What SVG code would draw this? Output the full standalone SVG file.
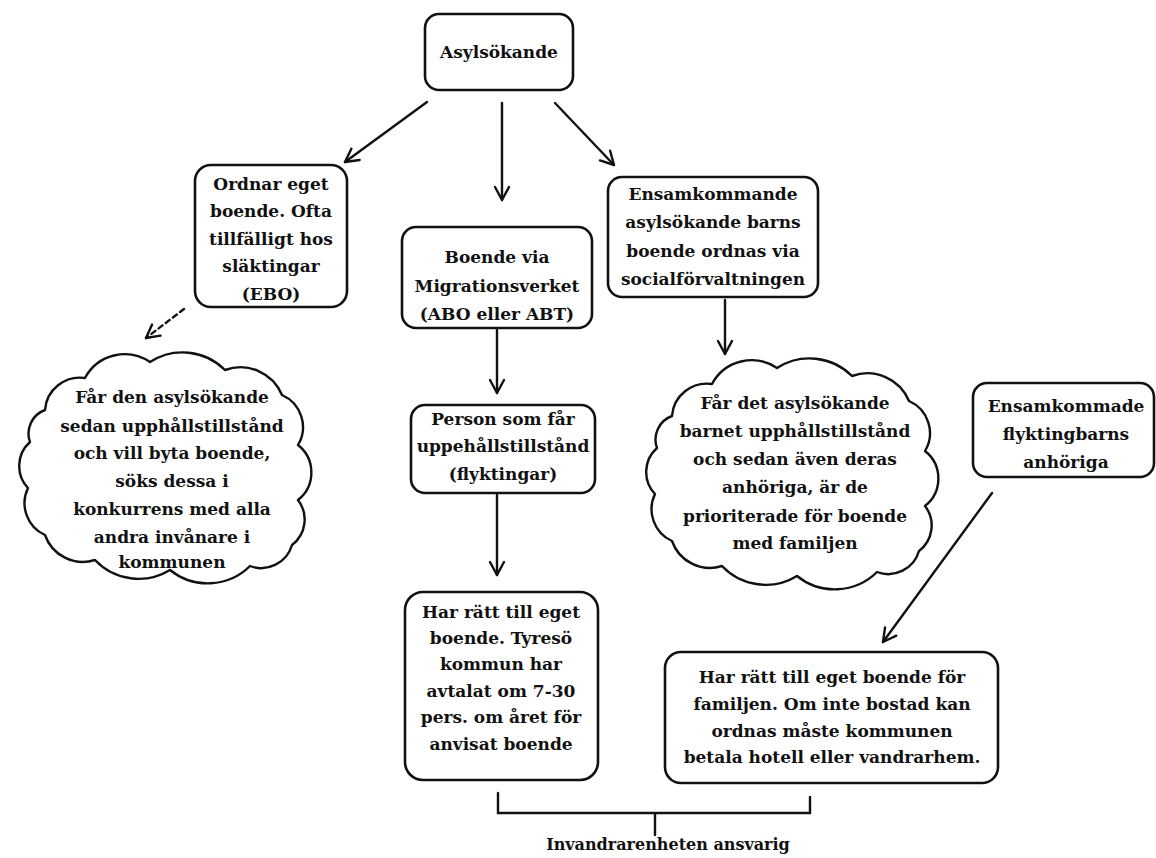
<svg xmlns="http://www.w3.org/2000/svg" width="1156" height="858" viewBox="0 0 1156 858">
<defs>
<marker id="arr" markerUnits="userSpaceOnUse" markerWidth="18" markerHeight="18" viewBox="0 0 18 18" refX="15" refY="9" orient="auto">
<path d="M2,2 L15,9 L2,16" fill="none" stroke="#111" stroke-width="2.4" stroke-linecap="round" stroke-linejoin="round"/>
</marker>
<path id="cloudshape" d="M45,410 A35,35 0 0 1 85,378 A45,45 0 0 1 150,362 A60,60 0 0 1 225,370 A45,45 0 0 1 282,395 A35,35 0 0 1 298,445 A35,35 0 0 1 298,500 A32,32 0 0 1 292,545 A32,32 0 0 1 250,566 A60,60 0 0 1 170,570 A60,60 0 0 1 95,560 A40,40 0 0 1 45,535 A35,35 0 0 1 28,488 A32,32 0 0 1 30,442 A25,25 0 0 1 45,410 Z"/>
<style>
.box{fill:#fff;stroke:#111;stroke-width:2.6}
.cloud{fill:#fff;stroke:#111;stroke-width:2.4;stroke-linejoin:round}
.t{font-family:"DejaVu Serif","Liberation Serif",serif;font-weight:bold;font-size:17px;fill:#111;text-anchor:middle}
.c{fill:none;stroke:#111;stroke-width:2.4;stroke-linecap:round}
</style>
</defs>
<rect width="1156" height="858" fill="#fff"/>
<g id="connectors">
<line class="c" x1="427" y1="102" x2="345" y2="162" marker-end="url(#arr)"/>
<line class="c" x1="502" y1="103" x2="502" y2="200" marker-end="url(#arr)"/>
<line class="c" x1="555" y1="103" x2="614" y2="165" marker-end="url(#arr)"/>
<line class="c" x1="184" y1="309" x2="146" y2="338" stroke-dasharray="5 4" marker-end="url(#arr)"/>
<line class="c" x1="725" y1="300" x2="725" y2="354" marker-end="url(#arr)"/>
<line class="c" x1="497" y1="330" x2="497" y2="393" marker-end="url(#arr)"/>
<line class="c" x1="497" y1="495" x2="497" y2="575" marker-end="url(#arr)"/>
<line class="c" x1="992" y1="493" x2="883" y2="642" marker-end="url(#arr)"/>
<path class="c" d="M498,793 V813 H810 V797 M655,813 V835" fill="none"/>
</g>
<g id="n-asylsokande">
<rect class="box" x="425" y="14" width="148" height="76" rx="14"/>
<text class="t" x="499" y="58">Asylsökande</text>
</g>
<g id="n-ordnar">
<rect class="box" x="195" y="165" width="152" height="142" rx="16"/>
<text class="t" x="271" y="190">Ordnar eget</text>
<text class="t" x="271" y="217">boende. Ofta</text>
<text class="t" x="271" y="245">tillfälligt hos</text>
<text class="t" x="271" y="272">släktingar</text>
<text class="t" x="271" y="300">(EBO)</text>
</g>
<g id="n-boende">
<rect class="box" x="402" y="227" width="190" height="101" rx="14"/>
<text class="t" x="497" y="263">Boende via</text>
<text class="t" x="497" y="292">Migrationsverket</text>
<text class="t" x="497" y="320">(ABO eller ABT)</text>
</g>
<g id="n-ensam">
<rect class="box" x="608" y="177" width="210" height="120" rx="14"/>
<text class="t" x="713" y="200">Ensamkommande</text>
<text class="t" x="713" y="228">asylsökande barns</text>
<text class="t" x="713" y="257">boende ordnas via</text>
<text class="t" x="713" y="285">socialförvaltningen</text>
</g>
<g id="n-cloud1">
<use href="#cloudshape" class="cloud"/>
<text class="t" x="172" y="403">Får den asylsökande</text>
<text class="t" x="172" y="432">sedan upphållstillstånd</text>
<text class="t" x="172" y="459">och vill byta boende,</text>
<text class="t" x="172" y="487">söks dessa i</text>
<text class="t" x="172" y="515">konkurrens med alla</text>
<text class="t" x="172" y="543">andra invånare i</text>
<text class="t" x="172" y="568">kommunen</text>
</g>
<g id="n-person">
<rect class="box" x="411" y="405" width="184" height="88" rx="14"/>
<text class="t" x="503" y="425">Person som får</text>
<text class="t" x="503" y="452">uppehållstillstånd</text>
<text class="t" x="503" y="480">(flyktingar)</text>
</g>
<g id="n-cloud2">
<use href="#cloudshape" class="cloud" transform="translate(627,6)"/>
<text class="t" x="795" y="409">Får det asylsökande</text>
<text class="t" x="795" y="437">barnet upphållstillstånd</text>
<text class="t" x="795" y="465">och sedan även deras</text>
<text class="t" x="795" y="493">anhöriga, är de</text>
<text class="t" x="795" y="522">prioriterade för boende</text>
<text class="t" x="795" y="549">med familjen</text>
</g>
<g id="n-anhoriga">
<rect class="box" x="973" y="383" width="181" height="94" rx="14"/>
<text class="t" x="1066" y="412">Ensamkommade</text>
<text class="t" x="1066" y="440">flyktingbarns</text>
<text class="t" x="1066" y="468">anhöriga</text>
</g>
<g id="n-rattmitt">
<rect class="box" x="405" y="592" width="193" height="188" rx="18"/>
<text class="t" x="501" y="618">Har rätt till eget</text>
<text class="t" x="501" y="644">boende. Tyresö</text>
<text class="t" x="501" y="670">kommun har</text>
<text class="t" x="501" y="697">avtalat om 7-30</text>
<text class="t" x="501" y="723">pers. om året för</text>
<text class="t" x="501" y="750">anvisat boende</text>
</g>
<g id="n-rattfamilj">
<rect class="box" x="665" y="652" width="333" height="131" rx="16"/>
<text class="t" x="832" y="683">Har rätt till eget boende för</text>
<text class="t" x="832" y="710">familjen. Om inte bostad kan</text>
<text class="t" x="832" y="737">ordnas måste kommunen</text>
<text class="t" x="832" y="763">betala hotell eller vandrarhem.</text>
</g>
<g id="n-ansvarig">
<text class="t" x="668" y="850" style="font-size:16px">Invandrarenheten ansvarig</text>
</g>
</svg>
